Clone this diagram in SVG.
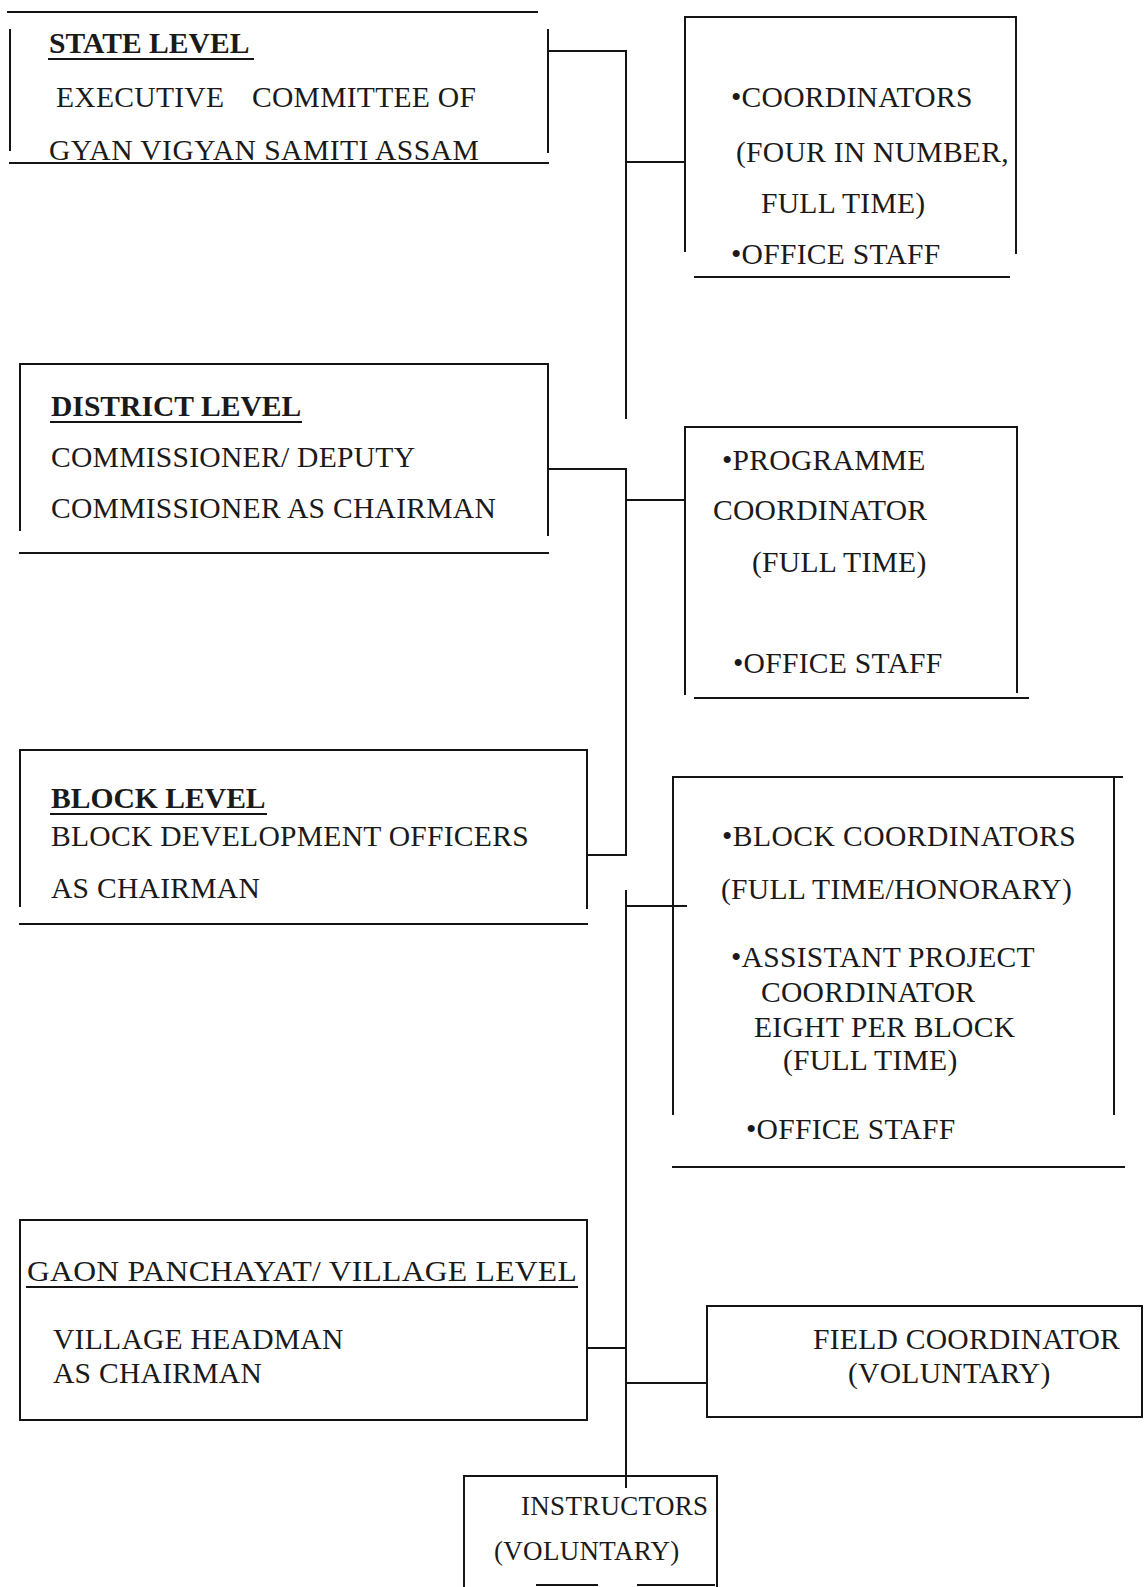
<svg xmlns="http://www.w3.org/2000/svg" width="1144" height="1587" viewBox="0 0 1144 1587">
  <style>
    .ln { stroke: #151515; stroke-width: 2; fill: none; stroke-linecap: square; }
    .t { font-family: "Liberation Serif", "Times New Roman", serif; font-size: 29.6px; fill: #1a1a1a; letter-spacing: 0.25px; }
    .h { font-weight: bold; letter-spacing: 0; }
    .s { font-size: 27px; letter-spacing: 0.3px; }
  </style>
  <rect width="1144" height="1587" fill="#ffffff"/>

  <!-- connectors -->
  <g id="connectors" class="ln">
    <path d="M548 51 H626 V418"/>
    <path d="M626 162 H685"/>
    <path d="M548 469 H626 V855 H587"/>
    <path d="M626 500 H685"/>
    <path d="M626 891 V1487"/>
    <path d="M626 906 H686"/>
    <path d="M587 1348 H626"/>
    <path d="M626 1383 H707"/>
  </g>

  <!-- state level -->
  <g id="state-level">
    <path class="ln" d="M8 12 H537 M10 30 V150 M548 30 V152 M10 163 H548"/>
    <text class="t h" x="49" y="53">STATE LEVEL</text>
    <path class="ln" d="M49 59 H253"/>
    <text class="t" x="56" y="107">EXECUTIVE</text>
    <text class="t" x="252" y="107">COMMITTEE OF</text>
    <text class="t" x="49" y="160" textLength="430" lengthAdjust="spacing">GYAN VIGYAN SAMITI ASSAM</text>
  </g>

  <!-- state staff -->
  <g id="state-staff">
    <path class="ln" d="M685 17 H1016 M685 17 V251 M1016 17 V253 M695 277 H1009"/>
    <text class="t" x="731" y="107">•COORDINATORS</text>
    <text class="t" x="736" y="162">(FOUR IN NUMBER,</text>
    <text class="t" x="761" y="213">FULL TIME)</text>
    <text class="t" x="731" y="264">•OFFICE STAFF</text>
  </g>

  <!-- district level -->
  <g id="district-level">
    <path class="ln" d="M20 364 H548 M20 364 V530 M548 364 V535 M20 553 H548"/>
    <text class="t h" x="51" y="416">DISTRICT LEVEL</text>
    <path class="ln" d="M51 422 H301"/>
    <text class="t" x="51" y="467">COMMISSIONER/ DEPUTY</text>
    <text class="t" x="51" y="518">COMMISSIONER AS CHAIRMAN</text>
  </g>

  <!-- district staff -->
  <g id="district-staff">
    <path class="ln" d="M685 427 H1017 M685 427 V694 M1017 427 V692 M695 698 H1028"/>
    <text class="t" x="722" y="470">•PROGRAMME</text>
    <text class="t" x="713" y="520">COORDINATOR</text>
    <text class="t" x="752" y="572">(FULL TIME)</text>
    <text class="t" x="733" y="673">•OFFICE STAFF</text>
  </g>

  <!-- block level -->
  <g id="block-level">
    <path class="ln" d="M20 750 H587 M20 750 V906 M587 750 V908 M20 924 H587"/>
    <text class="t h" x="51" y="808">BLOCK LEVEL</text>
    <path class="ln" d="M51 814 H266"/>
    <text class="t" x="51" y="846">BLOCK DEVELOPMENT OFFICERS</text>
    <text class="t" x="51" y="898">AS CHAIRMAN</text>
  </g>

  <!-- block staff -->
  <g id="block-staff">
    <path class="ln" d="M673 777 H1122 M673 777 V1114 M1114 777 V1114 M673 1167 H1124"/>
    <text class="t" x="722" y="846" textLength="354" lengthAdjust="spacing">•BLOCK COORDINATORS</text>
    <text class="t" x="721" y="899">(FULL TIME/HONORARY)</text>
    <text class="t" x="731" y="967">•ASSISTANT PROJECT</text>
    <text class="t" x="761" y="1002">COORDINATOR</text>
    <text class="t" x="754" y="1037">EIGHT PER BLOCK</text>
    <text class="t" x="783" y="1070">(FULL TIME)</text>
    <text class="t" x="746" y="1139">•OFFICE STAFF</text>
  </g>

  <!-- gaon panchayat / village level -->
  <g id="village-level">
    <rect class="ln" x="20" y="1220" width="567" height="200"/>
    <text class="t" x="27" y="1281" textLength="550" lengthAdjust="spacingAndGlyphs">GAON PANCHAYAT/ VILLAGE LEVEL</text>
    <path class="ln" d="M27 1287 H577"/>
    <text class="t" x="53" y="1349">VILLAGE HEADMAN</text>
    <text class="t" x="53" y="1383">AS CHAIRMAN</text>
  </g>

  <!-- field coordinator -->
  <g id="field-coordinator">
    <rect class="ln" x="707" y="1306" width="435" height="111"/>
    <text class="t" x="813" y="1349">FIELD COORDINATOR</text>
    <text class="t" x="848" y="1383">(VOLUNTARY)</text>
  </g>

  <!-- instructors -->
  <g id="instructors">
    <path class="ln" d="M464 1476 H717 M464 1476 V1587 M717 1476 V1587 M537 1585 H597 M638 1585 H714"/>
    <text class="t s" x="521" y="1515">INSTRUCTORS</text>
    <text class="t s" x="494" y="1560">(VOLUNTARY)</text>
  </g>
</svg>
